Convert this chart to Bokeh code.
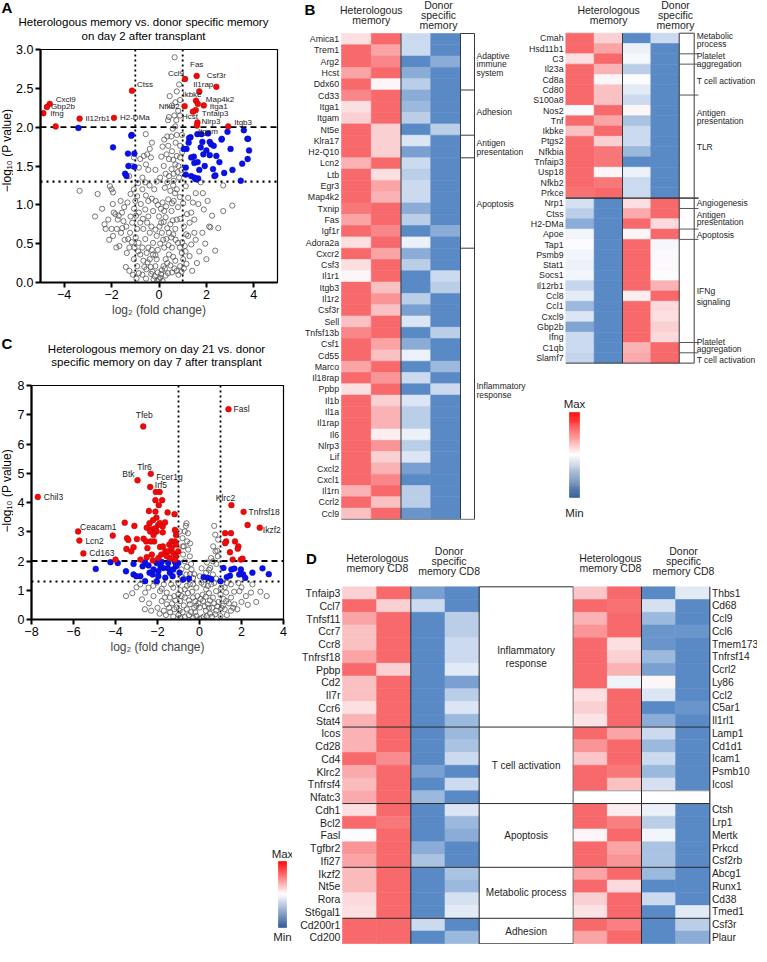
import math
from bokeh.plotting import figure
from bokeh.models import (Range1d, Span, LinearColorMapper, FixedTicker,
                          PrintfTickFormatter, ColumnDataSource)
from bokeh.layouts import row, column
from bokeh.embed import file_html
from bokeh.resources import INLINE
from bokeh.core.properties import value

FONT = "Liberation Sans"

# ======================= DATA =======================
a_ns = [(-3.35,1.18),(-2.59,1.14),(-2.07,1.24),(-2.00,1.20),(-1.94,1.16),(-1.95,1.01),(-1.91,0.90),(-1.84,0.88),
        (-2.30,0.75),(-2.25,0.69),(-2.00,0.69),(-2.14,0.81),(-1.56,0.90),(-1.50,0.79),(-1.60,0.64),(-1.67,0.47),
        (-1.36,0.38),(-1.30,0.56),(-1.22,0.64),(-1.13,0.77),(-1.20,1.14),(-1.06,1.20),(-0.79,1.59),(-0.64,1.63),
        (-0.34,1.61),(-0.58,1.29),(-0.92,1.11),(-0.77,1.01),(-0.58,0.94),(-0.45,1.05),(-0.25,0.92),(-0.14,1.05),
        (-0.97,0.86),(-0.79,0.77),(-0.92,0.69),(-0.66,0.69),(-0.50,0.77),(-0.39,0.64),(-0.58,0.56),(-0.86,0.51),
        (-1.04,0.45),(-0.79,0.36),(-0.45,0.45),(-0.25,0.51),(-0.66,0.28),(-0.39,0.30),(-0.25,0.36),(-0.15,0.21),
        (-0.05,0.13),(0.00,0.04),(0.09,0.11),(0.19,0.21),(0.28,0.30),(0.42,0.36),(0.55,0.45),(0.69,0.28),
        (0.22,0.45),(0.31,0.56),(0.12,0.64),(0.42,0.64),(0.09,0.77),(0.28,0.84),(0.48,0.75),(0.69,0.69),
        (0.80,0.51),(0.75,0.81),(0.53,0.92),(0.22,0.92),(0.15,1.03),(0.39,1.07),(0.62,1.05),(0.80,0.97),
        (0.48,1.18),(0.75,1.20),(0.35,1.29),(0.62,1.31),(0.42,1.37),(0.53,1.46),(0.69,1.52),(0.82,1.50),
        (0.42,1.59),(0.75,1.63),(0.89,1.61),(0.32,1.65),(0.55,1.69),(0.89,1.76),(1.13,1.24),(1.23,1.09),
        (1.43,1.03),(1.36,0.90),(1.29,0.77),(1.49,0.81),(1.66,1.01),(1.76,1.29),(1.89,0.94),(2.24,0.86),
        (2.17,0.71),(1.83,0.64),(1.49,0.64),(1.23,0.60),(1.36,0.49),(1.09,0.47),(1.29,0.34),(1.02,0.30),
        (0.96,0.38),(1.16,0.24),(0.89,0.21),(0.75,0.15),(0.55,0.13),(2.37,0.41),(2.71,0.92),(3.09,0.99),
        (2.71,1.25),(2.12,0.72),(-1.06,0.30),(-0.92,0.21),(-0.53,0.17),(-0.33,0.11),(-0.23,0.04),(0.15,0.02),
        (0.28,0.09),(-1.47,0.97),(-1.33,1.03),(-1.26,1.37),(-1.13,1.50),(-1.06,1.61),(-0.39,1.72),(-0.30,1.80),
        (0.22,1.84),(0.39,1.76),(-1.74,0.81),(-1.78,0.69),(-1.94,0.60),(-1.70,0.86),(0.66,2.90),(0.75,2.46),
        (0.89,2.35),(0.69,2.32),(0.55,2.28),(0.42,2.13),(0.73,2.09),(0.38,2.09),(0.89,2.15),(0.69,2.01),
        (0.58,1.98),(0.75,1.90),(0.35,1.88),(-0.56,1.91),(0.81,2.21),(-0.10,0.60),(0.00,0.85),(-0.20,1.20),
        (0.05,1.35),(-0.45,1.45),(0.20,1.50),(-0.70,1.35),(-0.10,0.30),(0.35,0.25),(-0.55,0.05),
        (-1.40,0.20),(-1.25,0.15),(-1.10,0.10),(-0.95,0.05),(-0.85,0.12),(-0.70,0.10),(-0.62,0.20),(-0.48,0.26),
        (-0.35,0.20),(-0.28,0.14),(-0.18,0.08),(-0.08,0.02),(0.05,0.06),(0.12,0.16),(0.25,0.18),(0.38,0.12),
        (0.48,0.22),(0.60,0.33),(0.65,0.18),(0.82,0.10),(0.95,0.14),(1.05,0.18),(1.12,0.40),(0.98,0.52),
        (0.88,0.45),(0.70,0.55),(0.60,0.62),(0.52,0.58),(0.40,0.48),(0.18,0.55),(0.05,0.50),(-0.05,0.42),
        (-0.15,0.35),(-0.30,0.42),(-0.52,0.38),(-0.70,0.45),(-0.88,0.40),(-0.98,0.58),(-1.15,0.52),(-1.25,0.45),
        (-1.45,0.55),(-1.55,0.70),(-1.38,0.72),(-1.20,0.85),(-1.05,0.95),(-0.85,0.90),(-0.68,0.82),(-0.45,0.85),
        (-0.32,0.72),(-0.15,0.68),(0.02,0.72),(0.20,0.78),(0.35,0.70),(0.58,0.80),(0.90,0.82),(1.05,0.72),
        (1.15,0.62),(1.18,0.88),(1.02,1.02),(0.88,1.10),(0.68,1.15),(0.55,1.02),(0.30,0.98),(0.08,0.95),
        (-0.05,1.00),(-0.30,1.08),(-0.55,1.12),(-0.70,1.20),(-0.88,1.28),(-1.00,1.05),(-0.40,1.25),(-0.10,1.30),
        (0.25,1.22),(0.60,1.25),(0.85,1.35),(0.95,1.45),(0.78,1.42),(0.62,1.40),(0.28,1.40),(-0.15,1.45),
        (-0.55,1.52),(-0.85,1.48),(0.10,1.62),(0.60,1.58),(0.98,1.68),(0.70,1.80),(0.52,1.88),(0.15,1.75),
        (-0.50,1.65),(0.97,1.90),(0.65,2.15),(0.85,2.55),(0.45,2.40),(-1.80,0.45),(-2.10,0.55),(-1.62,1.05),
        (-2.40,0.95),(1.55,0.55),(1.70,0.40),(1.95,0.50),(2.00,0.30),(1.60,0.25),(1.40,0.15),(1.85,1.15),
        (2.05,1.05),(1.55,1.15),(2.50,0.70),(-2.70,0.85)]
a_sig = [(-3.40,1.99),(-1.15,1.90),(-1.94,1.74),(-1.31,1.66),(-1.04,1.66),(-1.29,1.50),(-1.04,1.49),(-1.43,1.40),
         (-1.37,1.37),(-1.17,1.89),(1.33,1.87),(1.62,1.91),(1.79,1.91),(2.64,1.84),(2.89,1.94),(3.02,1.72),
         (3.73,1.85),(3.80,1.70),(3.74,1.59),(3.51,1.53),(3.45,1.31),(2.75,1.41),(2.38,1.38),(2.34,1.37),
         (1.93,1.50),(2.28,1.46),(2.42,1.63),(2.14,1.64),(1.87,1.65),(1.63,1.55),(1.47,1.62),(1.36,1.61),
         (1.49,1.54),(1.16,1.72),(1.05,1.72),(1.25,1.80),(1.13,1.48),(1.13,1.39),(1.36,1.37),(1.50,1.35),
         (1.65,1.34),(1.55,1.33),(2.14,1.81),(2.20,1.78),(2.31,1.76),(1.83,1.81),(1.76,1.74),(1.27,1.86),
         (2.07,1.92),(2.65,1.85),(3.58,1.96),(3.76,1.85),(2.00,1.70),(1.70,1.45),(2.55,1.55),(3.10,1.45)]
a_red_unlabeled = [(-4.36,2.01)]
a_top_genes = ["Cxcl9","Gbp2b","Ifng","Il12rb1","H2-DMa","Ctss","Ccl9","Fas","Csf3r","Il1rap",
               "Ikbke","Map4k2","Nfkb2","Itga1","Tnfaip3","Hcst","Nlrp3","Itgam","Itgb3"]
a_top_fc = [-4.61,-4.73,-4.88,-3.35,-1.90,-1.14,1.10,1.59,2.42,1.70,1.56,1.89,1.08,1.64,1.55,1.43,1.62,1.60,2.92]
a_top_p = [2.30,2.26,2.18,2.11,2.12,2.47,2.62,2.66,2.52,2.46,2.34,2.28,2.27,2.30,2.22,2.20,2.06,2.02,2.01]
a_xticks = [-4, -2, 0, 2, 4]
a_yticks = [0, 0.5, 1.0, 1.5, 2.0, 2.5, 3.0]

c_ns = [(-0.62,3.29),(-0.70,3.01),(-0.81,2.78),(-0.59,2.67),(-0.75,2.50),(-0.54,2.39),(-0.78,2.22),(-0.46,2.16),
        (-0.70,1.99),(-0.86,1.71),(-0.38,1.71),(-0.62,1.54),(-0.31,1.42),(-0.94,3.01),(0.89,2.73),(0.76,2.33),
        (0.64,1.99),(0.51,1.76),(0.87,2.16),(0.32,1.60),(0.01,1.48),(0.64,1.54),(0.79,1.40),(-2.82,1.20),
        (-2.43,1.09),(-2.04,1.26),(-1.88,0.97),(-1.56,0.92),(-1.25,1.09),(-1.01,0.86),(-1.41,0.75),(-0.93,0.63),
        (-0.70,0.75),(-0.46,0.52),(-0.31,0.75),(-0.15,0.47),(0.01,0.41),(0.17,0.63),(0.40,0.52),(0.64,0.75),
        (0.79,0.97),(1.03,1.09),(1.27,0.92),(1.50,0.75),(1.66,0.52),(1.27,0.63),(1.11,0.47),(1.90,0.97),
        (2.21,0.80),(2.45,0.92),(2.52,1.20),(0.56,1.20),(0.32,1.03),(0.09,1.26),(-0.15,1.09),(-0.46,1.20),
        (-0.70,1.03),(-1.09,0.41),(-1.56,0.52),(-1.80,0.63),(-2.19,0.80),(-2.59,0.92),(-2.74,0.69),(-0.80,0.25),
        (-0.50,0.15),(-0.30,0.05),(0.00,0.02),(0.20,0.10),(0.50,0.20),(0.80,0.30),(-1.20,0.35),(1.20,0.35),
        (0.30,0.30),(-0.20,0.25),(-0.60,0.35),(0.60,0.40),(-1.00,1.25),(-0.90,1.00),(1.50,1.20),(2.00,1.10),
        (0.90,0.60),(-1.70,0.30),(-0.35,0.95),(0.15,0.85),(-1.15,0.65),(1.00,0.85),(-2.20,1.15),(-1.70,1.20),
        (1.30,1.25),(-0.55,2.95),(-0.65,3.20),(0.75,2.90),(0.55,2.10),(-0.40,1.90),(0.20,1.20),(-0.10,0.80),
        (0.45,0.90),(-0.50,0.65),(1.80,0.35),(-2.00,0.40),(-3.20,0.90),(2.70,0.60),(0.35,1.95),(0.70,3.20),
        (-0.25,1.55),
        (-1.90,0.20),(-1.60,0.15),(-1.40,0.25),(-1.25,0.10),(-1.00,0.15),(-0.90,0.05),(-0.70,0.08),(-0.40,0.25),
        (-0.15,0.12),(0.10,0.05),(0.35,0.12),(0.60,0.10),(0.75,0.18),(1.00,0.12),(1.30,0.15),(1.50,0.30),
        (1.05,0.40),(0.85,0.45),(0.45,0.40),(0.25,0.45),(-0.05,0.55),(-0.25,0.40),(-0.75,0.48),(-0.95,0.30),
        (-1.30,0.55),(-1.45,0.40),(-1.20,0.80),(-0.85,0.80),(-0.55,0.90),(-0.20,0.62),(0.05,0.70),(0.30,0.78),
        (0.50,0.65),(0.70,0.55),(1.15,0.70),(1.40,0.55),(1.60,0.40),(2.00,0.60),(2.30,0.50),(-2.40,0.55),
        (-2.60,0.35),(-2.30,0.30),(-1.65,0.75),(-1.80,1.05),(-1.35,1.20),(-0.60,1.15),(-0.30,1.20),(0.40,1.15),
        (0.70,1.25),(1.20,1.10),(1.65,0.95),(1.85,1.25),(-0.85,1.45),(-0.45,1.55),(0.10,1.75),(0.45,1.70),
        (0.80,1.90),(-0.60,1.80),(-0.80,2.50),(-0.45,2.60),(0.65,2.50),(0.85,2.35),(-3.00,1.10),(-3.50,0.80),
        (2.90,0.95),(3.20,0.80)]
c_sig = [(-4.94,1.73),(-4.24,1.96),(-3.89,1.93),(-3.14,1.90),(-3.14,1.54),(-2.82,1.48),(-3.01,1.48),(-2.71,1.82),
         (-2.43,1.85),(-2.04,1.93),(-1.80,1.97),(-1.49,1.93),(-1.17,1.97),(-1.01,1.93),(-2.19,1.71),(-1.96,1.65),
         (-1.72,1.76),(-2.38,1.60),(-2.23,1.54),(-1.96,1.48),(-1.63,1.43),(-1.41,1.60),(-1.28,1.48),(-1.12,1.82),
         (-1.25,1.71),(-2.59,1.31),(-2.04,1.31),(-0.78,1.37),(-0.50,1.40),(1.14,1.76),(1.52,1.71),(1.66,1.74),
         (1.97,1.71),(1.89,1.54),(2.08,1.54),(2.18,1.42),(1.45,1.50),(2.52,1.60),(3.00,1.75),(3.30,1.55),
         (1.00,1.31),(-1.50,1.75),(-1.85,1.80),(-2.60,1.95),(-3.50,1.65),(1.30,1.45),(-0.95,1.60),(0.20,1.45),
         (0.40,1.42),(0.56,1.38)]
c_red_unlabeled = [(-3.56,3.31),(-3.10,3.20),(-3.45,2.78),(-3.39,2.72),(-2.98,2.75),(-2.66,2.76),(-3.14,2.47),
                   (-3.48,2.41),(-3.25,2.33),(-2.81,2.05),(-2.51,2.13),(-2.22,2.02),(-1.96,2.10),(-2.27,2.22),
                   (-2.48,2.44),(-2.16,2.67),(-1.88,2.48),(-1.74,2.50),(-1.63,2.33),(-1.82,2.22),(-1.49,2.33),
                   (-1.44,2.56),(-1.33,2.67),(-1.17,2.67),(-1.12,2.89),(-1.12,2.56),(-1.33,2.44),(-1.25,2.27),
                   (-1.01,2.33),(-1.12,2.16),(-1.41,2.10),(-1.56,2.16),(-1.17,2.05),(-2.41,3.71),(-2.10,3.69),
                   (-2.05,3.48),(-2.21,3.40),(-2.38,3.29),(-2.51,3.14),(-2.29,3.09),(-2.10,3.12),(-1.97,3.23),
                   (-1.88,3.29),(-1.75,3.18),(-1.64,3.32),(-1.52,3.66),(-1.19,3.60),(-1.75,2.98),(-2.04,3.01),
                   (-2.35,3.01),(-2.19,2.89),(-1.78,4.08),(-2.10,4.08),(-1.94,3.91),(-2.54,2.67),(-2.32,2.67),
                   (-4.00,2.05),(-4.13,2.87),(-1.17,3.06),(-1.90,4.36),(1.22,2.95),(1.50,2.95),(1.27,2.67),
                   (1.69,2.67),(1.85,2.50),(1.82,2.42),(1.45,2.30),(1.58,2.05),(1.97,2.05),(2.05,2.08),
                   (1.22,2.61),(2.29,3.23)]
c_top_genes = ["Fasl","Tfeb","Btk","Tlr6","Fcer1g","Irf5","Chil3","Ceacam1","Lcn2","Cd163","Klrc2","Tnfrsf18","Ikzf2"]
c_top_fc = [1.38,-2.68,-2.95,-2.32,-2.35,-2.08,-7.70,-5.78,-5.72,-5.53,1.52,2.10,2.87]
c_top_p = [7.19,6.60,4.76,4.98,4.53,4.36,4.19,3.01,2.70,2.26,3.91,3.68,3.14]
c_xticks = [-8, -6, -4, -2, 0, 2, 4]
c_yticks = [0, 1, 2, 3, 4, 5, 6, 7, 8]

P_DASHED = 2.0    # -log10(0.01)
P_DOTTED = 1.3    # -log10(0.05)
FC_CUT = 1.0

b1_genes = ["Amica1","Trem1","Arg2","Hcst","Ddx60","Cd33","Itga1","Itgam","Nt5e","Klra17","H2-Q10","Lcn2","Ltb",
            "Egr3","Map4k2","Txnip","Fas","Igf1r","Adora2a","Cxcr2","Csf3","Il1r1","Itgb3","Il1r2","Csf3r","Sell",
            "Tnfsf13b","Csf1","Cd55","Marco","Il18rap","Ppbp","Il1b","Il1a","Il1rap","Il6","Nlrp3","Lif","Cxcl2",
            "Cxcl1","Il1rn","Ccrl2","Ccl9"]
b1_het1 = [0.60,1.0,1.0,0.80,1.0,0.90,0.60,0.65,1.0,1.0,1.0,0.75,1.0,1.0,1.0,0.95,0.80,1.0,0.60,1.0,0.60,0.52,
           1.0,1.0,1.0,0.70,0.90,1.0,1.0,0.80,1.0,0.60,1.0,1.0,1.0,1.0,1.0,1.0,1.0,1.0,0.75,1.0,0.70]
b1_het2 = [1.0,0.80,0.90,1.0,0.52,1.0,1.0,1.0,0.65,0.65,0.65,1.0,0.60,0.80,0.75,1.0,1.0,0.90,1.0,0.80,1.0,1.0,
           0.70,0.85,0.70,1.0,1.0,0.80,0.70,1.0,0.85,1.0,0.65,0.75,0.75,0.55,0.85,0.65,0.75,0.90,1.0,0.70,1.0]
b1_don1 = [0.35,0.35,0.0,0.15,0.30,0.15,0.20,0.30,0.0,0.40,0.10,0.35,0.30,0.35,0.35,0.15,0.30,0.0,0.45,0.15,0.30,
           0.0,0.0,0.30,0.10,0.40,0.0,0.15,0.45,0.0,0.35,0.0,0.40,0.30,0.30,0.45,0.30,0.40,0.10,0.0,0.30,0.30,0.05]
b1_don2 = [0.0,0.0,0.15,0.0,0.0,0.0,0.0,0.0,0.30,0.0,0.0,0.0,0.0,0.0,0.0,0.0,0.0,0.15,0.0,0.0,0.0,0.35,0.30,
           0.0,0.0,0.0,0.30,0.0,0.0,0.20,0.0,0.35,0.0,0.0,0.0,0.0,0.0,0.0,0.0,0.0,0.0,0.0,0.0]
b1_groups = ["Adaptive\nimmune\nsystem", "Adhesion", "Antigen\npresentation", "Apoptosis", "Inflammatory\nresponse"]
b1_group_sizes = [5, 4, 2, 8, 24]

b2_genes = ["Cmah","Hsd11b1","C3","Il23a","Cd8a","Cd80","S100a8","Nos2","Tnf","Ikbke","Ptgs2","Nfkbia","Tnfaip3",
            "Usp18","Nfkb2","Prkce","Nrp1","Ctss","H2-DMa","Apoe","Tap1","Psmb9","Stat1","Socs1","Il12rb1","Ccl8",
            "Ccl1","Cxcl9","Gbp2b","Ifng","C1qb","Slamf7"]
b2_het1 = [1.0,1.0,0.60,1.0,1.0,1.0,1.0,0.49,1.0,0.70,1.0,1.0,1.0,1.0,1.0,0.97,
           0.38,0.30,0.15,0.47,0.50,0.47,0.45,0.47,0.33,0.43,0.20,0.40,0.12,0.35,0.35,0.33]
b2_het2 = [0.65,0.80,1.0,0.75,0.52,0.70,0.70,1.0,0.80,1.0,0.65,0.95,0.95,0.52,0.95,1.0,
           0.0,0.0,0.0,0.0,0.0,0.0,0.0,0.0,0.0,0.0,0.0,0.0,0.0,0.0,0.0,0.0]
b2_don1 = [0.0,0.45,0.48,0.30,0.50,0.42,0.35,0.52,0.25,0.35,0.35,0.20,0.0,0.45,0.35,0.35,
           0.60,0.78,1.0,0.52,1.0,1.0,1.0,1.0,1.0,0.55,1.0,1.0,1.0,1.0,0.75,0.78]
b2_don2 = [0.35,0.0,0.0,0.0,0.0,0.0,0.0,0.0,0.0,0.0,0.0,0.0,0.0,0.0,0.0,0.0,
           1.0,1.0,0.62,1.0,0.48,0.51,0.51,0.50,0.75,1.0,0.62,0.60,0.65,0.62,1.0,1.0]
b2_group_sizes = [2, 1, 3, 10, 1, 2, 1, 10, 1, 1]
b2_major_split = 16
b2_labels = ["Metabolic\nprocess", "Platelet\naggregation", "T cell activation", "Antigen\npresentation", "TLR",
             "Angiogenesis", "Antigen\npresentation", "Apoptosis", "IFNg\nsignaling", "Platelet\naggregation",
             "T cell activation"]

d1_genes = ["Tnfaip3","Ccl7","Tnfsf11","Ccr7","Ccr8","Tnfrsf18","Ppbp","Cd2","Il7r","Ccr6","Stat4","Icos","Cd28",
            "Cd4","Klrc2","Tnfrsf4","Nfatc3","Cdh1","Bcl2","Fasl","Tgfbr2","Ifi27","Ikzf2","Nt5e","Rora","St6gal1",
            "Cd200r1","Cd200"]
d1_het1 = [0.65,1.0,0.80,0.70,0.70,0.80,1.0,0.70,0.70,0.60,0.75,0.75,0.75,1.0,0.78,0.72,0.78,0.60,1.0,0.50,0.85,
           0.80,0.72,0.72,0.62,0.60,1.0,1.0]
d1_het2 = [1.0,0.65,1.0,1.0,1.0,1.0,0.65,1.0,1.0,1.0,1.0,1.0,1.0,0.88,1.0,1.0,1.0,1.0,0.95,1.0,1.0,1.0,1.0,1.0,
           1.0,1.0,1.0,1.0]
d1_don1 = [0.10,0.35,0.0,0.0,0.0,0.0,0.0,0.0,0.0,0.0,0.0,0.0,0.0,0.0,0.10,0.0,0.20,0.0,0.0,0.0,0.15,0.25,0.0,
           0.0,0.0,0.0,0.35,0.0]
d1_don2 = [0.0,0.0,0.30,0.30,0.35,0.35,0.42,0.10,0.30,0.40,0.20,0.20,0.25,0.35,0.0,0.35,0.0,0.40,0.20,0.15,0.0,
           0.0,0.25,0.20,0.38,0.42,0.0,0.20]
d2_genes = ["Thbs1","Cd68","Ccl9","Ccl6","Tmem173","Tnfrsf14","Ccrl2","Ly86","Ccl2","C5ar1","Il1rl1","Lamp1",
            "Cd1d1","Icam1","Psmb10","Icosl","","Ctsh","Lrp1","Mertk","Prkcd","Csf2rb","Abcg1","Runx1","Cd38",
            "Tmed1","Csf3r","Plaur"]
d2_het1 = [0.68,1.0,0.75,0.85,1.0,1.0,1.0,1.0,0.60,0.65,0.58,1.0,0.85,0.68,1.0,1.0,None,1.0,1.0,0.52,1.0,1.0,
           0.80,1.0,0.65,0.58,1.0,0.80]
d2_het2 = [1.0,0.97,1.0,1.0,0.60,0.65,0.75,0.46,1.0,1.0,1.0,0.80,1.0,1.0,0.95,0.70,None,0.55,0.92,1.0,0.80,0.85,
           1.0,0.62,1.0,1.0,0.92,1.0]
d2_don1 = [0.0,0.38,0.20,0.05,0.05,0.20,0.10,0.52,0.40,0.0,0.15,0.35,0.20,0.35,0.20,0.38,None,0.45,0.30,0.47,
           0.25,0.25,0.20,0.0,0.35,0.0,0.0,0.0]
d2_don2 = [0.42,0.0,0.0,0.05,0.0,0.0,0.0,0.0,0.0,0.05,0.0,0.0,0.0,0.0,0.0,0.0,None,0.0,0.0,0.0,0.0,0.0,0.0,0.0,
           0.0,0.42,0.30,0.15]
d_groups = ["Inflammatory\nresponse", "T cell activation", "Apoptosis", "Metabolic process", "Adhesion"]
d_group_sizes = [11, 6, 5, 4, 2]

# ======================= STYLE / LAYOUT =======================
a_label_place = [("left",6,-4),("left",4,0),("left",7,0),("left",6,0),("left",6,0),("left",5,-6),("right",-1,-6),
                 ("center",0,-11),("center",0,-11),("center",4,-7),("center",-4,-6),("left",2,-6),("right",-5,0),
                 ("left",12,3),("left",6,3),("center",-3,5),("left",4,-1),("left",1,6),("left",6,-4)]
c_label_place = [("left",5,0),("center",1,-11),("right",-3,-6),("right",1,-7),("left",6,-10),("left",-1,-7),
                 ("left",6,0),("left",2,-4),("left",6,0),("left",6,0),("center",-6,-7),("left",5,0),("left",3,2)]
b1_label_rows = [2.72, 6.99, 10.1, 15.1, 31.6]
b2_label_rows = [0.66, 2.57, 4.68, 8.1, 11.08, 16.49, 18.0, 19.59, 25.52, 30.32, 31.72]
b2_label_lineh = [8.4, 7.7, 8, 8.2, 8, 8, 7.4, 8, 11, 6.7, 8]


def _mix(c1, c2, t):
    t = max(0.0, min(1.0, t))
    return "#%02x%02x%02x" % tuple(int(round(a + (b - a) * t)) for a, b in zip(c1, c2))


def three_stop(lo, mid, hi, n=256):
    out = []
    for i in range(n):
        t = i / (n - 1)
        out.append(_mix(lo, mid, t * 2) if t <= 0.5 else _mix(mid, hi, (t - 0.5) * 2))
    return out


HEAT = LinearColorMapper(palette=three_stop((0x5A, 0x8A, 0xC6), (0xFC, 0xFC, 0xFF), (0xF8, 0x69, 0x6B)), low=0, high=1)
KEY = LinearColorMapper(palette=three_stop((0x2C, 0x5A, 0x98), (0xFF, 0xFF, 0xFF), (0xFF, 0x00, 0x00)), low=0, high=1)


def texts(p, xs, ys, labels, size, align="left", baseline="middle", color="#1e1e1e", style="normal", angle=0.0):
    p.text(x=list(xs), y=list(ys), text=list(labels), text_align=align, text_baseline=baseline,
           text_font=value(FONT), text_font_size=f"{size}px", text_color=color,
           text_font_style=style, angle=angle)


def block(p, x, yc, s, size, line_h, align="left", **kw):
    parts = s.split("\n")
    n = len(parts)
    ys = [yc + (k - (n - 1) / 2) * line_h for k in range(n)]
    texts(p, [x] * n, ys, parts, size, align, **kw)


def grid_fig(W, H, x0, cw, y0, rh):
    p = figure(width=W, height=H, x_range=Range1d(-x0 / cw, (W - x0) / cw),
               y_range=Range1d((H - y0) / rh, -y0 / rh), output_backend="svg", toolbar_location=None,
               x_axis_location=None, y_axis_location=None, min_border=0)
    p.min_border_left = p.min_border_right = p.min_border_top = p.min_border_bottom = 0
    p.xgrid.grid_line_color = None
    p.ygrid.grid_line_color = None
    p.outline_line_color = None
    p.background_fill_color = "white"
    p.border_fill_color = "white"
    return p


def px_fig(W, H):
    return grid_fig(W, H, 0, 1, 0, 1)


def draw_cells(p, cols, x_start):
    xs, ys, vs = [], [], []
    for j, colv in enumerate(cols):
        for i, v in enumerate(colv):
            if v is None:
                continue
            xs.append(x_start + j + 0.5)
            ys.append(i + 0.5)
            vs.append(v)
    src = ColumnDataSource(dict(x=xs, y=ys, v=vs))
    p.rect(x="x", y="y", width=1, height=1, source=src,
           fill_color={"field": "v", "transform": HEAT},
           line_color={"field": "v", "transform": HEAT}, line_width=0.6)


def hline(p, y, x0, x1, color="#333333", width=1.0):
    p.segment(x0=[x0], y0=[y], x1=[x1], y1=[y], line_color=color, line_width=width)


def vline(p, x, y0, y1, color="#333333", width=1.0):
    p.segment(x0=[x], y0=[y0], x1=[x], y1=[y1], line_color=color, line_width=width)


def draw_key(p, x0, x1, y0, y1, steps=90):
    tops = [y0 + (y1 - y0) * k / steps for k in range(steps)]
    bots = [y0 + (y1 - y0) * (k + 1) / steps for k in range(steps)]
    vals = [1 - (k + 0.5) / steps for k in range(steps)]
    src = ColumnDataSource(dict(l=[x0] * steps, r=[x1] * steps, t=tops, b=bots, v=vals))
    p.quad(left="l", right="r", top="t", bottom="b", source=src,
           fill_color={"field": "v", "transform": KEY}, line_color={"field": "v", "transform": KEY}, line_width=0.5)


def volcano(W, H, borders, xlim, ylim, xticks, yticks, yfmt=None):
    bl, bt, br, bb = borders
    p = figure(width=W, height=H, x_range=Range1d(*xlim), y_range=Range1d(*ylim),
               output_backend="svg", toolbar_location=None,
               min_border_left=bl, min_border_right=br, min_border_top=bt, min_border_bottom=bb)
    p.xgrid.grid_line_color = None
    p.ygrid.grid_line_color = None
    p.outline_line_color = "black"
    p.outline_line_width = 1.2
    p.background_fill_color = "white"
    p.border_fill_color = "white"
    for ax in (p.xaxis[0], p.yaxis[0]):
        ax.axis_line_width = 2.2
        ax.axis_line_color = "black"
        ax.major_tick_line_width = 2
        ax.major_tick_line_color = "black"
        ax.major_tick_out = 5
        ax.major_tick_in = 0
        ax.minor_tick_line_color = None
        ax.major_label_text_font = FONT
        ax.major_label_text_font_size = "12.5px"
        ax.major_label_text_color = "black"
    p.xaxis.ticker = FixedTicker(ticks=xticks)
    p.yaxis.ticker = FixedTicker(ticks=yticks)
    p.yaxis.major_label_standoff = 2
    p.xaxis.major_label_standoff = 2
    p.xaxis.axis_label = "log\u2082 (fold change)"
    p.xaxis.axis_label_text_font = FONT
    p.xaxis.axis_label_text_font_size = "12px"
    p.xaxis.axis_label_text_font_style = "normal"
    p.xaxis.axis_label_standoff = 1
    if yfmt:
        p.yaxis.formatter = PrintfTickFormatter(format=yfmt)
    for xv in (-FC_CUT, FC_CUT):
        p.add_layout(Span(location=xv, dimension="height", line_color="black", line_width=1.8,
                          line_dash="2 3", level="underlay"))
    p.add_layout(Span(location=P_DASHED, dimension="width", line_color="black", line_width=1.8,
                      line_dash="6 4", level="underlay"))
    p.add_layout(Span(location=P_DOTTED, dimension="width", line_color="black", line_width=2.2,
                      line_dash="2 4", level="underlay"))
    return p


def draw_points(p, ns, sig, red, top_fc, top_p, top_genes, place, lab_size):
    p.scatter([v[0] for v in ns], [v[1] for v in ns], marker="circle", size=5.2, fill_color=None,
              line_color="#555555", line_width=0.8)
    p.scatter([v[0] for v in sig], [v[1] for v in sig], marker="circle", size=5.8, fill_color="#0a10e8",
              line_color="#0008c0", line_width=0.5)
    p.scatter([v[0] for v in red] + list(top_fc), [v[1] for v in red] + list(top_p), marker="circle",
              size=5.8, fill_color="#f00a0a", line_color="#c00000", line_width=0.5)
    src = ColumnDataSource(dict(x=top_fc, y=top_p, t=top_genes, al=[s[0] for s in place],
                                dx=[s[1] for s in place], dy=[s[2] for s in place]))
    p.text(x="x", y="y", text="t", source=src, text_align={"field": "al"}, x_offset={"field": "dx"},
           y_offset={"field": "dy"}, text_baseline="middle", text_font=value(FONT),
           text_font_size=f"{lab_size}px", text_color="#1a1a1a")


YLAB = "\u2212log\u2081\u2080 (P value)"

# ======================= PANEL A =======================
hA = px_fig(292, 41)
texts(hA, [1], [7], ["A"], 15, style="bold", color="black")
texts(hA, [143, 143], [21, 35], ["Heterologous memory vs. donor specific memory", "on day 2 after transplant"],
      11.5, align="center", color="black")
yA = px_fig(13, 286)
texts(yA, [6.5], [124], [YLAB], 12, align="center", color="black", angle=math.pi / 2)
pA = volcano(279, 286, (18, 8, 15, 45), (-5, 5), (0, 3), a_xticks, a_yticks, "%.1f")
draw_points(pA, a_ns, a_sig, a_red_unlabeled, a_top_fc, a_top_p, a_top_genes, a_label_place, 8)

# ======================= PANEL C =======================
hC = px_fig(292, 50)
texts(hC, [1], [16], ["C"], 15, style="bold", color="black")
texts(hC, [156, 156], [21, 34], ["Heterologous memory on day 21 vs. donor",
                                 "specific memory on day 7 after transplant"], 11.5, align="center", color="black")
yC = px_fig(13, 280)
texts(yC, [6.5], [126], [YLAB], 12, align="center", color="black", angle=math.pi / 2)
pC = volcano(279, 280, (18, 8, 9, 38), (-8, 4), (0, 8), c_xticks, c_yticks)
draw_points(pC, c_ns, c_sig, c_red_unlabeled, c_top_fc, c_top_p, c_top_genes, c_label_place, 8.5)

pKD = px_fig(292, 287)
draw_key(pKD, 278, 286, 204, 270)
texts(pKD, [282], [196], ["Max"], 11.5, align="center")
texts(pKD, [282], [279], ["Min"], 11.5, align="center")

# ======================= PANEL B (left) =======================
pBL = grid_fig(236, 542, 49, 29.75, 33, 11.3)
n1 = len(b1_genes)
draw_cells(pBL, [b1_het1, b1_het2, b1_don1, b1_don2], 0)
strip1 = 4 + 14 / 29.75
vline(pBL, 2, 0, n1, "#3a3a3a")
vline(pBL, 4, 0, n1, "#3a3a3a")
vline(pBL, strip1, 0, n1, "#3a3a3a")
hline(pBL, 0, 4, strip1, "#3a3a3a")
hline(pBL, n1, 0, strip1, "#8a8a8a", 1.2)
acc = 0
for s in b1_group_sizes[:-1]:
    acc += s
    hline(pBL, acc, 4, strip1, "#3a3a3a")
texts(pBL, [-0.08] * n1, [i + 0.5 for i in range(n1)], b1_genes, 8.8, align="right")
for name, r in zip(b1_groups, b1_label_rows):
    block(pBL, strip1 + 2 / 29.75, r, name, 8.5, 8.3 / 11.3)
block(pBL, 1.0, -1.6, "Heterologous\nmemory", 10.5, 10 / 11.3, align="center")
block(pBL, 3.26, -1.68, "Donor\nspecific\nmemory", 10.5, 10 / 11.3, align="center")
texts(pBL, [-1.06], [-2.15], ["B"], 15, align="center", style="bold", color="black")

# ======================= PANEL B (right) =======================
pBR = grid_fig(229, 382, 37.3, 28.35, 32.7, 10.31)
n2 = len(b2_genes)
draw_cells(pBR, [b2_het1, b2_het2, b2_don1, b2_don2], 0)
strip2 = 4 + 15 / 28.35
vline(pBR, 2, 0, n2, "#3a3a3a")
vline(pBR, 4, 0, n2, "#3a3a3a")
vline(pBR, strip2, 0, n2, "#3a3a3a")
hline(pBR, 0, 4, strip2, "#3a3a3a")
hline(pBR, n2, 0, strip2, "#3a3a3a")
hline(pBR, b2_major_split, 0, strip2 + 0.15, "#222222", 1.2)
acc = 0
for s in b2_group_sizes[:-1]:
    acc += s
    hline(pBR, acc, 4, strip2 + 0.15, "#555555")
texts(pBR, [-0.08] * n2, [i + 0.5 for i in range(n2)], b2_genes, 8.8, align="right")
for name, r, lh in zip(b2_labels, b2_label_rows, b2_label_lineh):
    block(pBR, strip2 + 2.5 / 28.35, r, name, 8.5, lh / 10.31)
block(pBR, 1.51, -1.72, "Heterologous\nmemory", 10.5, 10 / 10.31, align="center")
block(pBR, 3.87, -1.81, "Donor\nspecific\nmemory", 10.5, 10 / 10.31, align="center")

pKB = px_fig(229, 160)
draw_key(pKB, 41, 51, 30, 115)
texts(pKB, [46], [21], ["Max"], 11.5, align="center")
texts(pKB, [46], [130], ["Min"], 11.5, align="center")

# ======================= PANEL D =======================
pD = grid_fig(465, 402, 50, 34.17, 44.3, 12.75)
nd = len(d1_genes)
R0 = 6.75
draw_cells(pD, [d1_het1, d1_het2, d1_don1, d1_don2], 0)
draw_cells(pD, [d2_het1, d2_het2, d2_don1, d2_don2], R0)
empty = [i for i, v in enumerate(d2_het1) if v is None]
pD.rect(x=[R0 + 2] * len(empty), y=[i + 0.5 for i in empty], width=4, height=1,
        fill_color="white", line_color="#9a9a9a", line_width=1)
acc = 0
for s in d_group_sizes[:-1]:
    acc += s
    hline(pD, acc, 0, R0 + 4, "#2b2b2b")
hline(pD, 0, 4, R0, "#2b2b2b")
hline(pD, nd, 4, R0, "#2b2b2b")
for xv, col in ((2, "#2b2b2b"), (4, "#2b2b2b"), (R0, "#7a7a7a"), (R0 + 2, "#2b2b2b"), (R0 + 4, "#2b2b2b")):
    vline(pD, xv, 0, nd, col)
texts(pD, [-0.06] * nd, [i + 0.5 for i in range(nd)], d1_genes, 10.5, align="right")
texts(pD, [R0 + 4 + 0.06] * nd, [i + 0.5 for i in range(nd)], d2_genes, 10.3, align="left")
acc = 0
for name, s in zip(d_groups, d_group_sizes):
    block(pD, (4 + R0) / 2, acc + s / 2, name, 10, 12.5 / 12.75, align="center")
    acc += s
block(pD, 1.02, -1.9, "Heterologous\nmemory CD8", 10.5, 10 / 12.75, align="center")
block(pD, 3.12, -2.0, "Donor\nspecific\nmemory CD8", 10.5, 10 / 12.75, align="center")
block(pD, R0 + 1.09, -1.9, "Heterologous\nmemory CD8", 10.5, 10 / 12.75, align="center")
block(pD, R0 + 3.23, -2.0, "Donor\nspecific\nmemory CD8", 10.5, 10 / 12.75, align="center")
texts(pD, [-0.91], [-2.2], ["D"], 15, align="center", style="bold", color="black")

# ======================= LAYOUT =======================
left = column(hA, row(yA, pA, spacing=0), hC, row(yC, pC, spacing=0), pKD, spacing=0)
right = column(row(pBL, column(pBR, pKB, spacing=0), spacing=0), pD, spacing=0)
layout = row(left, right, spacing=0)

open("out.html", "w").write(file_html(layout, INLINE))
